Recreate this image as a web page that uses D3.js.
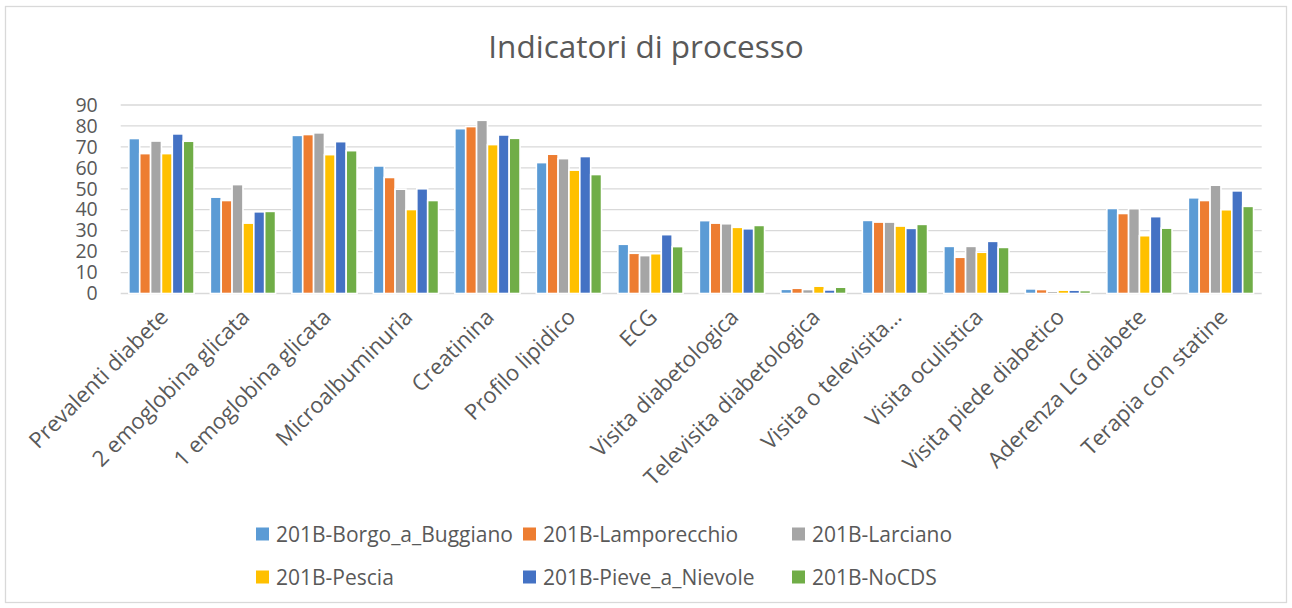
<!DOCTYPE html>
<html>
<head>
<meta charset="utf-8">
<script src="https://cdn.jsdelivr.net/npm/d3@7"></script>
<style>
  html, body { margin: 0; padding: 0; background: #fff; }
  svg { display: block; font-family: "Open Sans", sans-serif; }
</style>
</head>
<body>
<svg id="chart" width="1292" height="608"></svg>
<script>
const categories = ["Prevalenti diabete", "2 emoglobina glicata", "1 emoglobina glicata", "Microalbuminuria",
  "Creatinina", "Profilo lipidico", "ECG", "Visita diabetologica", "Televisita diabetologica",
  "Visita o televisita…", "Visita oculistica", "Visita piede diabetico", "Aderenza LG diabete", "Terapia con statine"];
const seriesNames = ["201B-Borgo_a_Buggiano", "201B-Lamporecchio", "201B-Larciano", "201B-Pescia", "201B-Pieve_a_Nievole", "201B-NoCDS"];
const borgo      = [74.0, 46.0, 75.5, 60.9, 78.7, 62.5, 23.5, 34.8, 2.0, 34.9, 22.5, 2.2, 40.6, 45.7];
const lamporecchio = [66.8, 44.4, 75.9, 55.4, 79.7, 66.5, 19.2, 33.6, 2.5, 34.1, 17.3, 1.9, 38.2, 44.4];
const larciano   = [72.8, 52.0, 76.7, 49.8, 82.7, 64.4, 18.1, 33.3, 1.9, 34.1, 22.5, 1.1, 40.5, 51.7];
const pescia     = [66.8, 33.6, 66.3, 40.1, 71.1, 58.9, 19.0, 31.6, 3.5, 32.2, 19.7, 1.6, 27.6, 40.0];
const pieve      = [76.2, 39.0, 72.5, 50.0, 75.7, 65.4, 28.1, 30.9, 1.7, 31.1, 24.9, 1.6, 36.7, 49.0];
const nocds      = [72.7, 39.2, 68.2, 44.4, 74.1, 56.8, 22.4, 32.5, 3.0, 33.0, 22.0, 1.4, 31.2, 41.6];
const seriesValues = [borgo, lamporecchio, larciano, pescia, pieve, nocds];
const colors = ["#5B9BD5", "#ED7D31", "#A5A5A5", "#FFC000", "#4472C4", "#70AD47"];
const yTicks = [0, 10, 20, 30, 40, 50, 60, 70, 80, 90];
const title = "Indicatori di processo";

const svg = d3.select("#chart");
const textColor = "#595959";
const gridColor = "#D9D9D9";

// chart border
svg.append("rect").attr("x", 5.5).attr("y", 6.5).attr("width", 1281).attr("height", 596)
  .attr("fill", "#fff").attr("stroke", gridColor).attr("stroke-width", 1.3);

const plot = { left: 120.7, right: 1261.7, top: 105, bottom: 293.5 };

const x0 = d3.scaleBand().domain(categories).range([plot.left, plot.right]).paddingInner(0.2).paddingOuter(0.1);
const x1 = d3.scaleBand().domain(seriesNames).range([0, x0.bandwidth()]).padding(0);
const y = d3.scaleLinear().domain([0, 90]).range([plot.bottom, plot.top]);

// gridlines
svg.append("g").selectAll("line").data(yTicks).join("line")
  .attr("x1", plot.left).attr("x2", plot.right)
  .attr("y1", d => y(d)).attr("y2", d => y(d))
  .attr("stroke", gridColor).attr("stroke-width", 1.3);

// y axis via d3 axis
const yAxis = d3.axisLeft(y).tickValues(yTicks).tickSize(0).tickPadding(0);
const yg = svg.append("g").attr("transform", `translate(${plot.left - 23},0)`).call(yAxis);
yg.select(".domain").remove();
yg.selectAll("text").attr("fill", textColor).style("font-size", "19.5px").style("font-family", "Open Sans");

// bars
const groups = svg.append("g").selectAll("g").data(categories).join("g")
  .attr("transform", d => `translate(${x0(d)},0)`);
groups.selectAll("rect").data((d, i) => seriesNames.map((s, j) => ({ s, v: seriesValues[j][i], c: colors[j] })))
  .join("rect")
  .attr("x", d => x1(d.s)).attr("width", x1.bandwidth())
  .attr("y", d => y(d.v)).attr("height", d => y(0) - y(d.v))
  .attr("fill", d => d.c).attr("stroke", "#fff").attr("stroke-width", 1.6);

// x axis labels
const xAxis = d3.axisBottom(x0).tickSize(0).tickPadding(0);
const xg = svg.append("g").attr("transform", `translate(0,${plot.bottom})`).call(xAxis);
xg.select(".domain").remove();
xg.selectAll(".tick text")
  .attr("fill", textColor).style("font-size", "22px").style("font-family", "Open Sans")
  .attr("text-anchor", "end")
  .attr("transform", "translate(8,25) rotate(-45)")
  .attr("dy", "0").attr("y", 0).attr("x", 0);

// title
svg.append("text").attr("x", 646).attr("y", 58).attr("text-anchor", "middle")
  .attr("fill", textColor).style("font-size", "31.5px").text(title);

// legend
const legCols = [256, 523, 792];
const legRows = [534, 577];
const leg = svg.append("g").selectAll("g").data(seriesNames).join("g")
  .attr("transform", (d, i) => `translate(${legCols[i % 3]},${legRows[Math.floor(i / 3)]})`);
leg.append("rect").attr("x", 0).attr("y", -6.5).attr("width", 13).attr("height", 13).attr("fill", (d, i) => colors[i]);
leg.append("text").attr("x", 20).attr("y", 0).attr("dy", "0.36em").attr("fill", textColor)
  .style("font-size", "21px").text(d => d);
</script>
</body>
</html>
